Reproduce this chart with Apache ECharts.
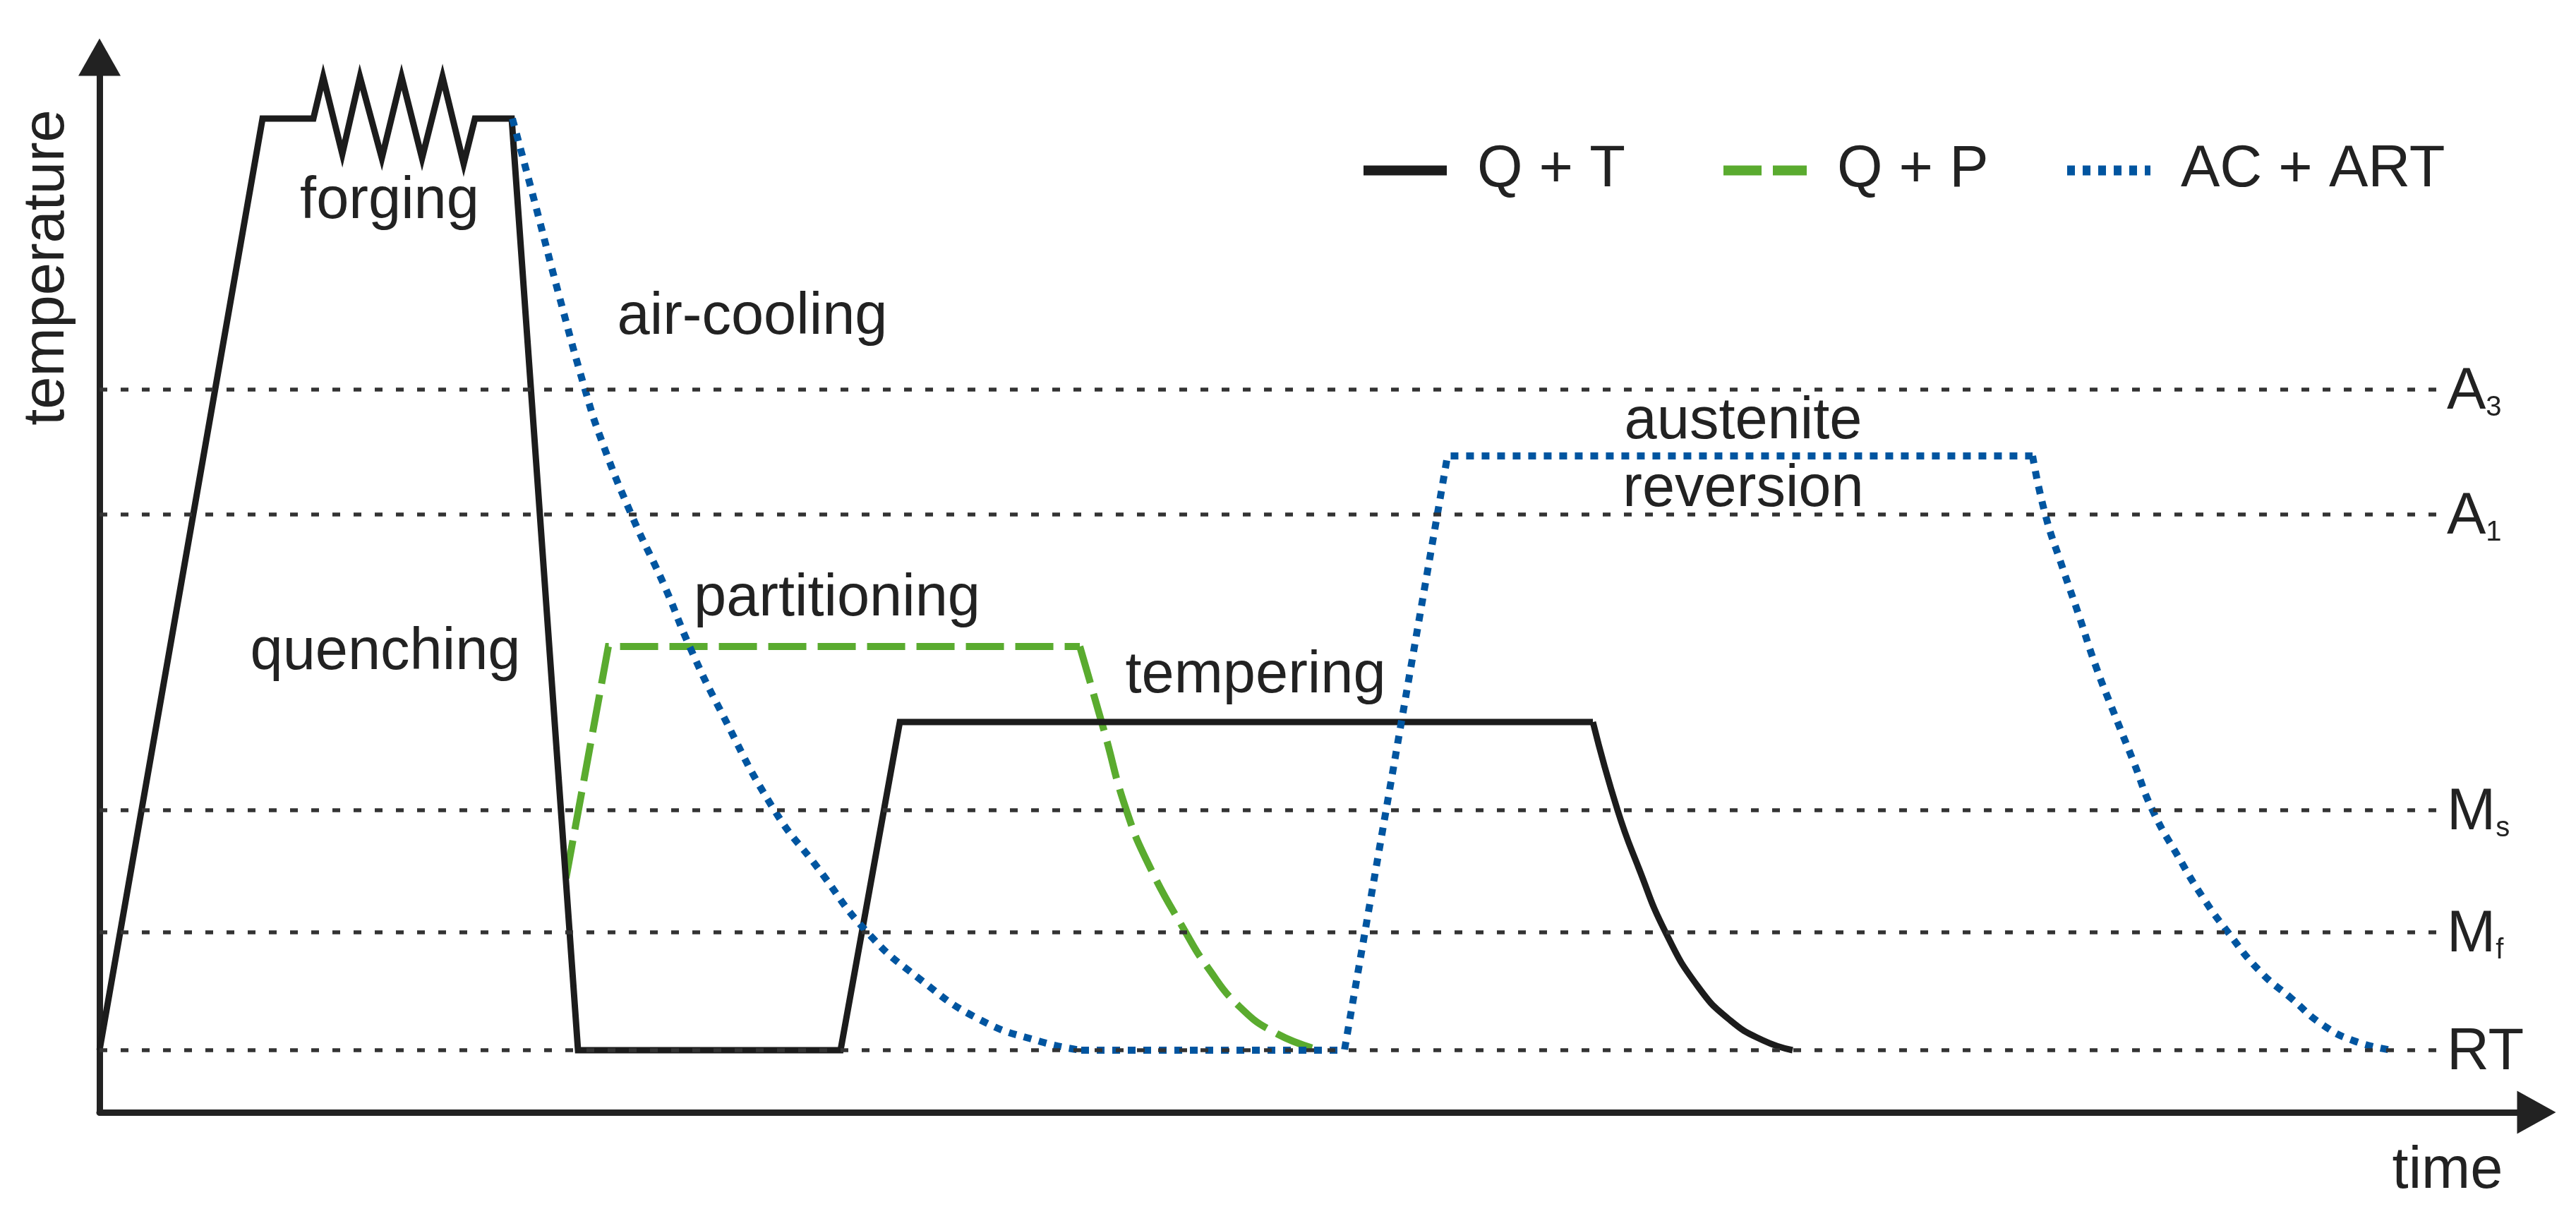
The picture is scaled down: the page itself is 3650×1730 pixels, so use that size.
<!DOCTYPE html>
<html lang="en">
<head>
<meta charset="UTF-8">
<title>Heat treatment routes</title>
<script src="https://cdn.jsdelivr.net/npm/echarts@6/dist/echarts.min.js"></script>
<style>
    html, body { margin: 0; padding: 0; background: #fff; }
    #chart { width: 3650px; height: 1730px; }
</style>
</head>
<body>
<div id="chart"></div>
<script type="text/javascript">
    // units: time / temperature in arbitrary schematic units (axis has no ticks)
    var xMax = 345.3;
    var yMax = 149.5;

    // critical temperatures (dashed reference lines)
    var levelMain = ['A', 'A', 'M', 'M', 'RT'];
    var levelSub = ['3', '1', 's', 'f', ''];
    var levelY = [102.4, 84.7, 42.8, 25.5, 8.8];
    var levelEndX = 332.0;

    // Q + T : heating, forging, quenching, hold at RT, tempering
    var qtX = [0, 23.1, 30.3, 31.7, 34.4, 36.9, 40.0, 42.8, 45.7, 48.6, 51.6, 53.2, 58.4, 67.8, 105.0, 113.4, 211.6];
    var qtY = [8.8, 140.8, 140.8, 146.7, 135.8, 146.7, 135.2, 146.7, 135.2, 146.7, 134.4, 140.8, 140.8, 8.8, 8.8, 55.3, 55.3];
    // Q + T : cooling after tempering
    var qtCoolX = [211.6, 215.1, 218.1, 221.9, 226.5, 231.1, 235.7, 239.9];
    var qtCoolY = [55.3, 42.8, 34.6, 25.5, 17.8, 13.0, 10.2, 8.8];

    // Q + P : reheating to partitioning temperature
    var qpX = [66.1, 72.1, 138.9];
    var qpY = [33.2, 66.0, 66.0];
    var qpCoolX = [138.9, 142.3, 145.5, 148.9, 153.9, 156.9, 161.5, 166.9, 173.0];
    var qpCoolY = [66.0, 54.2, 42.8, 34.6, 25.5, 20.7, 15.0, 11.1, 8.8];

    // AC + ART : air cooling after forging
    var acX = [58.5, 61.6, 65.1, 68.8, 71.1, 75.4, 80.0, 83.7, 88.0, 95.5, 101.8, 108.7, 116.2, 124.8, 133.4, 139.1];
    var acY = [140.8, 129.2, 115.8, 102.4, 95.3, 84.6, 74.7, 65.8, 56.9, 43.0, 34.6, 25.6, 18.9, 13.1, 10.0, 8.8];
    // AC + ART : hold at RT, heating, austenite reversion
    var artX = [139.1, 176.4, 191.0, 273.9];
    var artY = [8.8, 8.8, 93.0, 93.0];
    var artCoolX = [273.9, 275.7, 278.0, 280.4, 282.9, 285.5, 288.2, 290.9, 294.5, 298.0, 301.6, 306.1, 310.5, 315.0, 319.5, 324.8];
    var artCoolY = [93.0, 84.7, 77.6, 70.6, 63.1, 56.4, 49.7, 42.8, 36.3, 30.5, 25.5, 20.0, 16.2, 12.4, 10.1, 8.8];

    // process step labels
    var annoText = ['forging', 'air-cooling', 'quenching', 'partitioning', 'tempering', 'austenite', 'reversion'];
    var annoX = [41.1, 92.5, 40.5, 104.5, 163.8, 232.9, 232.9];
    var annoY = [129.0, 112.6, 65.1, 72.7, 61.8, 97.8, 88.2];

    var legendNames = ['Q + T', 'Q + P', 'AC + ART'];

    var FONT = '"Liberation Sans", Arial, Helvetica, sans-serif';
    var TEXT = '#222222';
    var BLACK = '#1c1c1c';
    var GREEN = '#5aab2f';
    var BLUE = '#0055a0';

    function pairs(xs, ys) {
        return xs.map(function (x, i) { return [x, ys[i]]; });
    }

    function lineSeries(name, xs, ys, color, width, type, smooth, z) {
        return {
            name: name,
            type: 'line',
            data: pairs(xs, ys),
            showSymbol: false,
            symbol: 'none',
            smooth: smooth,
            z: z,
            lineStyle: { color: color, width: width, type: type, cap: 'butt', join: 'miter' },
            itemStyle: { color: color },
            emphasis: { disabled: true }
        };
    }

    var chart = echarts.init(document.getElementById('chart'));

    var levelLines = levelY.map(function (v, i) {
        return [
            { coord: [0, v], name: String(i) },
            { coord: [levelEndX, v] }
        ];
    });

    var legendLeft = [1925, 2435, 2922];

    var option = {
        animation: false,
        backgroundColor: '#ffffff',
        textStyle: { fontFamily: FONT },
        grid: { left: 141, right: 56, top: 81, bottom: 154 },
        xAxis: {
            type: 'value',
            min: 0,
            max: xMax,
            axisLine: {
                show: true,
                symbol: ['none', 'triangle'],
                symbolSize: [61, 55],
                lineStyle: { color: TEXT, width: 9 }
            },
            axisTick: { show: false },
            axisLabel: { show: false },
            splitLine: { show: false }
        },
        yAxis: {
            type: 'value',
            min: 0,
            max: yMax,
            axisLine: {
                show: true,
                symbol: ['none', 'triangle'],
                symbolSize: [60, 53],
                lineStyle: { color: TEXT, width: 9 }
            },
            axisTick: { show: false },
            axisLabel: { show: false },
            splitLine: { show: false }
        },
        legend: legendNames.map(function (n, i) {
            return {
                data: [n],
                left: legendLeft[i],
                top: 200,
                padding: 0,
                itemWidth: 118,
                itemHeight: 24,
                lineStyle: { width: 14 },
                itemStyle: { opacity: 0 },
                selectedMode: false,
                textStyle: { fontSize: 83, color: TEXT, fontFamily: FONT, padding: [0, 0, 0, 38] }
            };
        }),
        graphic: [
            {
                type: 'text', x: 67, y: 379, rotation: Math.PI / 2,
                style: { text: 'temperature', font: '83px ' + FONT, fill: TEXT, align: 'center', verticalAlign: 'middle' }
            },
            {
                type: 'text', x: 3468, y: 1660,
                style: { text: 'time', font: '83px ' + FONT, fill: TEXT, align: 'center', verticalAlign: 'middle' }
            }
        ],
        series: [
            {
                name: 'levels',
                type: 'line',
                data: [],
                z: 1,
                markLine: {
                    silent: true,
                    symbol: ['none', 'none'],
                    lineStyle: { color: '#333333', width: 5.5, type: [11, 19] },
                    emphasis: { disabled: true },
                    label: {
                        show: true,
                        position: 'end',
                        distance: 6,
                        padding: [9, 0, 0, 0],
                        formatter: function (p) {
                            var i = +p.name;
                            var s = '{m|' + levelMain[i] + '}';
                            if (levelSub[i]) s += '{s|' + levelSub[i] + '}';
                            return s;
                        },
                        rich: {
                            m: { fontSize: 83, lineHeight: 83, color: TEXT, fontFamily: FONT, padding: [0, 0, 9, 0], verticalAlign: 'top' },
                            s: { fontSize: 40, lineHeight: 40, color: TEXT, fontFamily: FONT, verticalAlign: 'bottom' }
                        }
                    },
                    data: levelLines
                }
            },
            lineSeries('Q + T', qtX, qtY, BLACK, 9, 'solid', false, 3),
            lineSeries('Q + T', qtCoolX, qtCoolY, BLACK, 9, 'solid', 0.5, 3),
            lineSeries('Q + P', qpX, qpY, GREEN, 10, [54, 16], false, 2),
            lineSeries('Q + P', qpCoolX, qpCoolY, GREEN, 10, [54, 16], 0.5, 2),
            lineSeries('AC + ART', acX, acY, BLUE, 10, [11, 11], 0.5, 4),
            lineSeries('AC + ART', artX, artY, BLUE, 10, [11, 11], false, 4),
            lineSeries('AC + ART', artCoolX, artCoolY, BLUE, 10, [11, 11], 0.5, 4),
            {
                name: 'steps',
                type: 'scatter',
                symbolSize: 0,
                z: 5,
                itemStyle: { color: TEXT, opacity: 1 },
                emphasis: { disabled: true },
                label: {
                    show: true,
                    position: 'inside',
                    formatter: '{b}',
                    fontSize: 83,
                    color: TEXT,
                    opacity: 1,
                    textBorderWidth: 0,
                    textBorderColor: 'transparent',
                    fontFamily: FONT
                },
                data: annoText.map(function (t, i) {
                    return { name: t, value: [annoX[i], annoY[i]] };
                })
            }
        ]
    };

    chart.setOption(option);
</script>
</body>
</html>
